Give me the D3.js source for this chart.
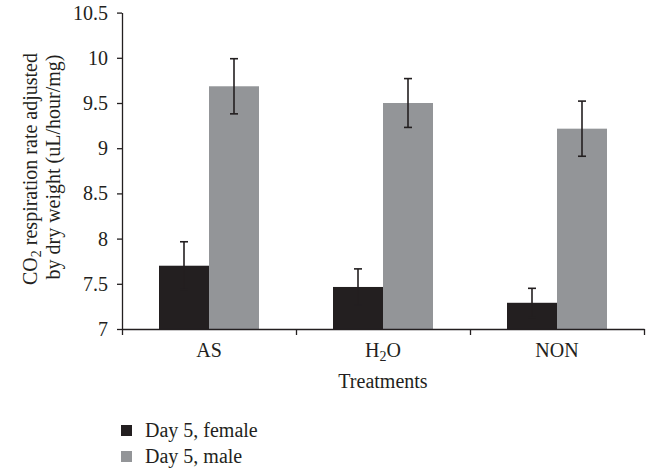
<!DOCTYPE html>
<html><head><meta charset="utf-8">
<script src="https://cdn.jsdelivr.net/npm/d3@7"></script>
<style>body{margin:0;background:#fff}svg{display:block}</style>
</head><body>
<svg id="c" width="648" height="469"></svg>
<script>
const categories = ["AS", "H2O", "NON"];
const seriesNames = ["Day 5, female", "Day 5, male"];
const femaleValues = [7.70, 7.465, 7.29];
const femaleErrors = [0.265, 0.20, 0.16];
const maleValues = [9.685, 9.50, 9.216];
const maleErrors = [0.305, 0.27, 0.305];
const yTicks = [7, 7.5, 8, 8.5, 9, 9.5, 10, 10.5];
const yTickLabels = ["7", "7.5", "8", "8.5", "9", "9.5", "10", "10.5"];
const colors = ["#231f20", "#939598"];

(function () {
const svg = d3.select("#c");
const font = "'Liberation Serif', 'Times New Roman', serif";
const fs = 20;
const pLeft = 122, pRight = 644, pTop = 12.6, pBottom = 329;
const ink = "#231f20";

const x = d3.scaleBand().domain(categories).range([pLeft, pRight]);
const x1 = d3.scaleBand().domain([0, 1]).range([0, 100]);
const y = d3.scaleLinear().domain([7, 10.5]).range([pBottom, pTop]);

const series = [
  {values: femaleValues, errors: femaleErrors},
  {values: maleValues, errors: maleErrors}
];

series.forEach((s, si) => {
  svg.append("g").selectAll("rect").data(categories).join("rect")
    .attr("x", d => x(d) + (x.bandwidth() - 100) / 2 + x1(si))
    .attr("width", x1.bandwidth())
    .attr("y", (d, i) => y(s.values[i]))
    .attr("height", (d, i) => y(7) - y(s.values[i]))
    .attr("fill", colors[si]);
});
series.forEach((s, si) => {
  const g = svg.append("g").attr("stroke", ink).attr("stroke-width", 1.6);
  categories.forEach((c, i) => {
    const cx = x(c) + (x.bandwidth() - 100) / 2 + x1(si) + x1.bandwidth() / 2;
    const hi = y(s.values[i] + s.errors[i]), lo = y(s.values[i] - s.errors[i]);
    g.append("line").attr("x1", cx).attr("x2", cx).attr("y1", hi).attr("y2", lo);
    g.append("line").attr("x1", cx - 4).attr("x2", cx + 4).attr("y1", hi).attr("y2", hi);
    g.append("line").attr("x1", cx - 4).attr("x2", cx + 4).attr("y1", lo).attr("y2", lo);
  });
});

const yAxis = svg.append("g").attr("transform", `translate(${pLeft},0)`)
  .call(d3.axisLeft(y).tickValues(yTicks).tickFormat((d, i) => yTickLabels[i]).tickSize(5).tickPadding(9).tickSizeOuter(0));
yAxis.select(".domain").attr("stroke", ink).attr("stroke-width", 1.3);
yAxis.selectAll(".tick line").attr("stroke", ink).attr("stroke-width", 1.3);
yAxis.selectAll("text").attr("font-family", font).attr("font-size", fs).attr("fill", ink);

const xb = d3.scaleLinear().domain([0, 3]).range([pLeft, pRight]);
const xAxis = svg.append("g").attr("transform", `translate(0,${pBottom})`)
  .call(d3.axisBottom(xb).tickValues([0, 1, 2, 3]).tickFormat("").tickSize(6).tickSizeOuter(0));
xAxis.select(".domain").attr("stroke", ink).attr("stroke-width", 1.3);
xAxis.selectAll(".tick line").attr("stroke", ink).attr("stroke-width", 1.3);

const labG = svg.append("g").attr("font-family", font).attr("font-size", fs).attr("fill", ink).attr("text-anchor", "middle");
categories.forEach(c => {
  const t = labG.append("text").attr("x", x(c) + x.bandwidth() / 2).attr("y", 357);
  if (c === "H2O") {
    t.append("tspan").text("H");
    t.append("tspan").attr("font-size", 14).attr("dy", 4).text("2");
    t.append("tspan").attr("dy", -4).text("O");
  } else t.text(c);
});
svg.append("text").attr("x", (pLeft + pRight) / 2).attr("y", 388).attr("text-anchor", "middle")
  .attr("font-family", font).attr("font-size", fs).attr("fill", ink).text("Treatments");

const yt = svg.append("text").attr("transform", "translate(37,169) rotate(-90)")
  .attr("text-anchor", "middle").attr("font-family", font).attr("font-size", fs).attr("fill", ink);
yt.append("tspan").text("CO");
yt.append("tspan").attr("font-size", 14).attr("dy", 4).text("2");
yt.append("tspan").attr("dy", -4).text(" respiration rate adjusted");
svg.append("text").attr("transform", "translate(60,167) rotate(-90)")
  .attr("text-anchor", "middle").attr("font-family", font).attr("font-size", fs).attr("fill", ink)
  .text("by dry weight (uL/hour/mg)");

seriesNames.forEach((n, i) => {
  svg.append("rect").attr("x", 121).attr("y", 425 + i * 26).attr("width", 11).attr("height", 11).attr("fill", colors[i]);
  svg.append("text").attr("x", 145).attr("y", 437 + i * 26).attr("font-family", font).attr("font-size", fs)
    .attr("fill", ink).text(n);
});
})();
</script>
</body></html>
